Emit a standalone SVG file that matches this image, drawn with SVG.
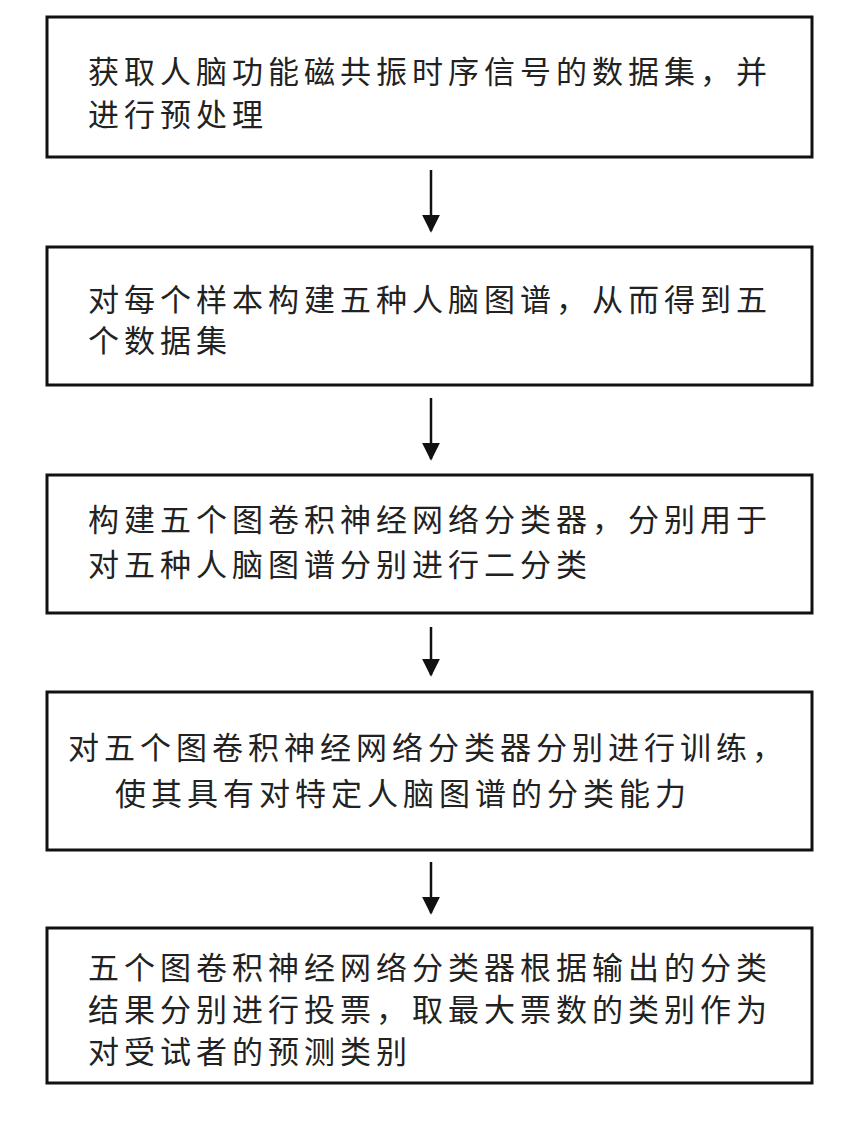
<svg xmlns="http://www.w3.org/2000/svg" width="864" height="1135" viewBox="0 0 864 1135">
<defs>
<style>
.box{fill:#fff;stroke:#111;stroke-width:3}
.t{font-family:"Noto Sans CJK SC","Liberation Sans",sans-serif;font-size:31px;letter-spacing:5px;fill:#222}
.c{stroke:#111;stroke-width:2.5;fill:none}
</style>
<marker id="ah" viewBox="0 0 10 10" refX="9" refY="5" markerWidth="18" markerHeight="18" markerUnits="userSpaceOnUse" orient="auto"><path d="M0,0L10,5L0,10z" fill="#111"/></marker>
</defs>
<rect width="864" height="1135" fill="#fff"/>
<g id="n1"><rect class="box" x="47" y="17" width="765" height="140"/>
<text class="t" x="88" y="83">获取人脑功能磁共振时序信号的数据集，并</text>
<text class="t" x="88" y="126">进行预处理</text></g>
<g id="n2"><rect class="box" x="47" y="247" width="765" height="138"/>
<text class="t" x="88" y="311">对每个样本构建五种人脑图谱，从而得到五</text>
<text class="t" x="88" y="352">个数据集</text></g>
<g id="n3"><rect class="box" x="47" y="475" width="765" height="138"/>
<text class="t" x="88" y="531">构建五个图卷积神经网络分类器，分别用于</text>
<text class="t" x="88" y="576">对五种人脑图谱分别进行二分类</text></g>
<g id="n4"><rect class="box" x="47" y="692" width="765" height="158"/>
<text class="t" x="68" y="759">对五个图卷积神经网络分类器分别进行训练，</text>
<text class="t" x="115" y="805">使其具有对特定人脑图谱的分类能力</text></g>
<g id="n5"><rect class="box" x="47" y="928" width="765" height="155"/>
<text class="t" x="88" y="979">五个图卷积神经网络分类器根据输出的分类</text>
<text class="t" x="88" y="1021">结果分别进行投票，取最大票数的类别作为</text>
<text class="t" x="88" y="1063">对受试者的预测类别</text></g>
<g id="connectors">
<line class="c" x1="431" y1="170" x2="431" y2="231" marker-end="url(#ah)"/>
<line class="c" x1="431" y1="398" x2="431" y2="459" marker-end="url(#ah)"/>
<line class="c" x1="431" y1="627" x2="431" y2="675" marker-end="url(#ah)"/>
<line class="c" x1="431" y1="862" x2="431" y2="913" marker-end="url(#ah)"/>
</g>
</svg>
